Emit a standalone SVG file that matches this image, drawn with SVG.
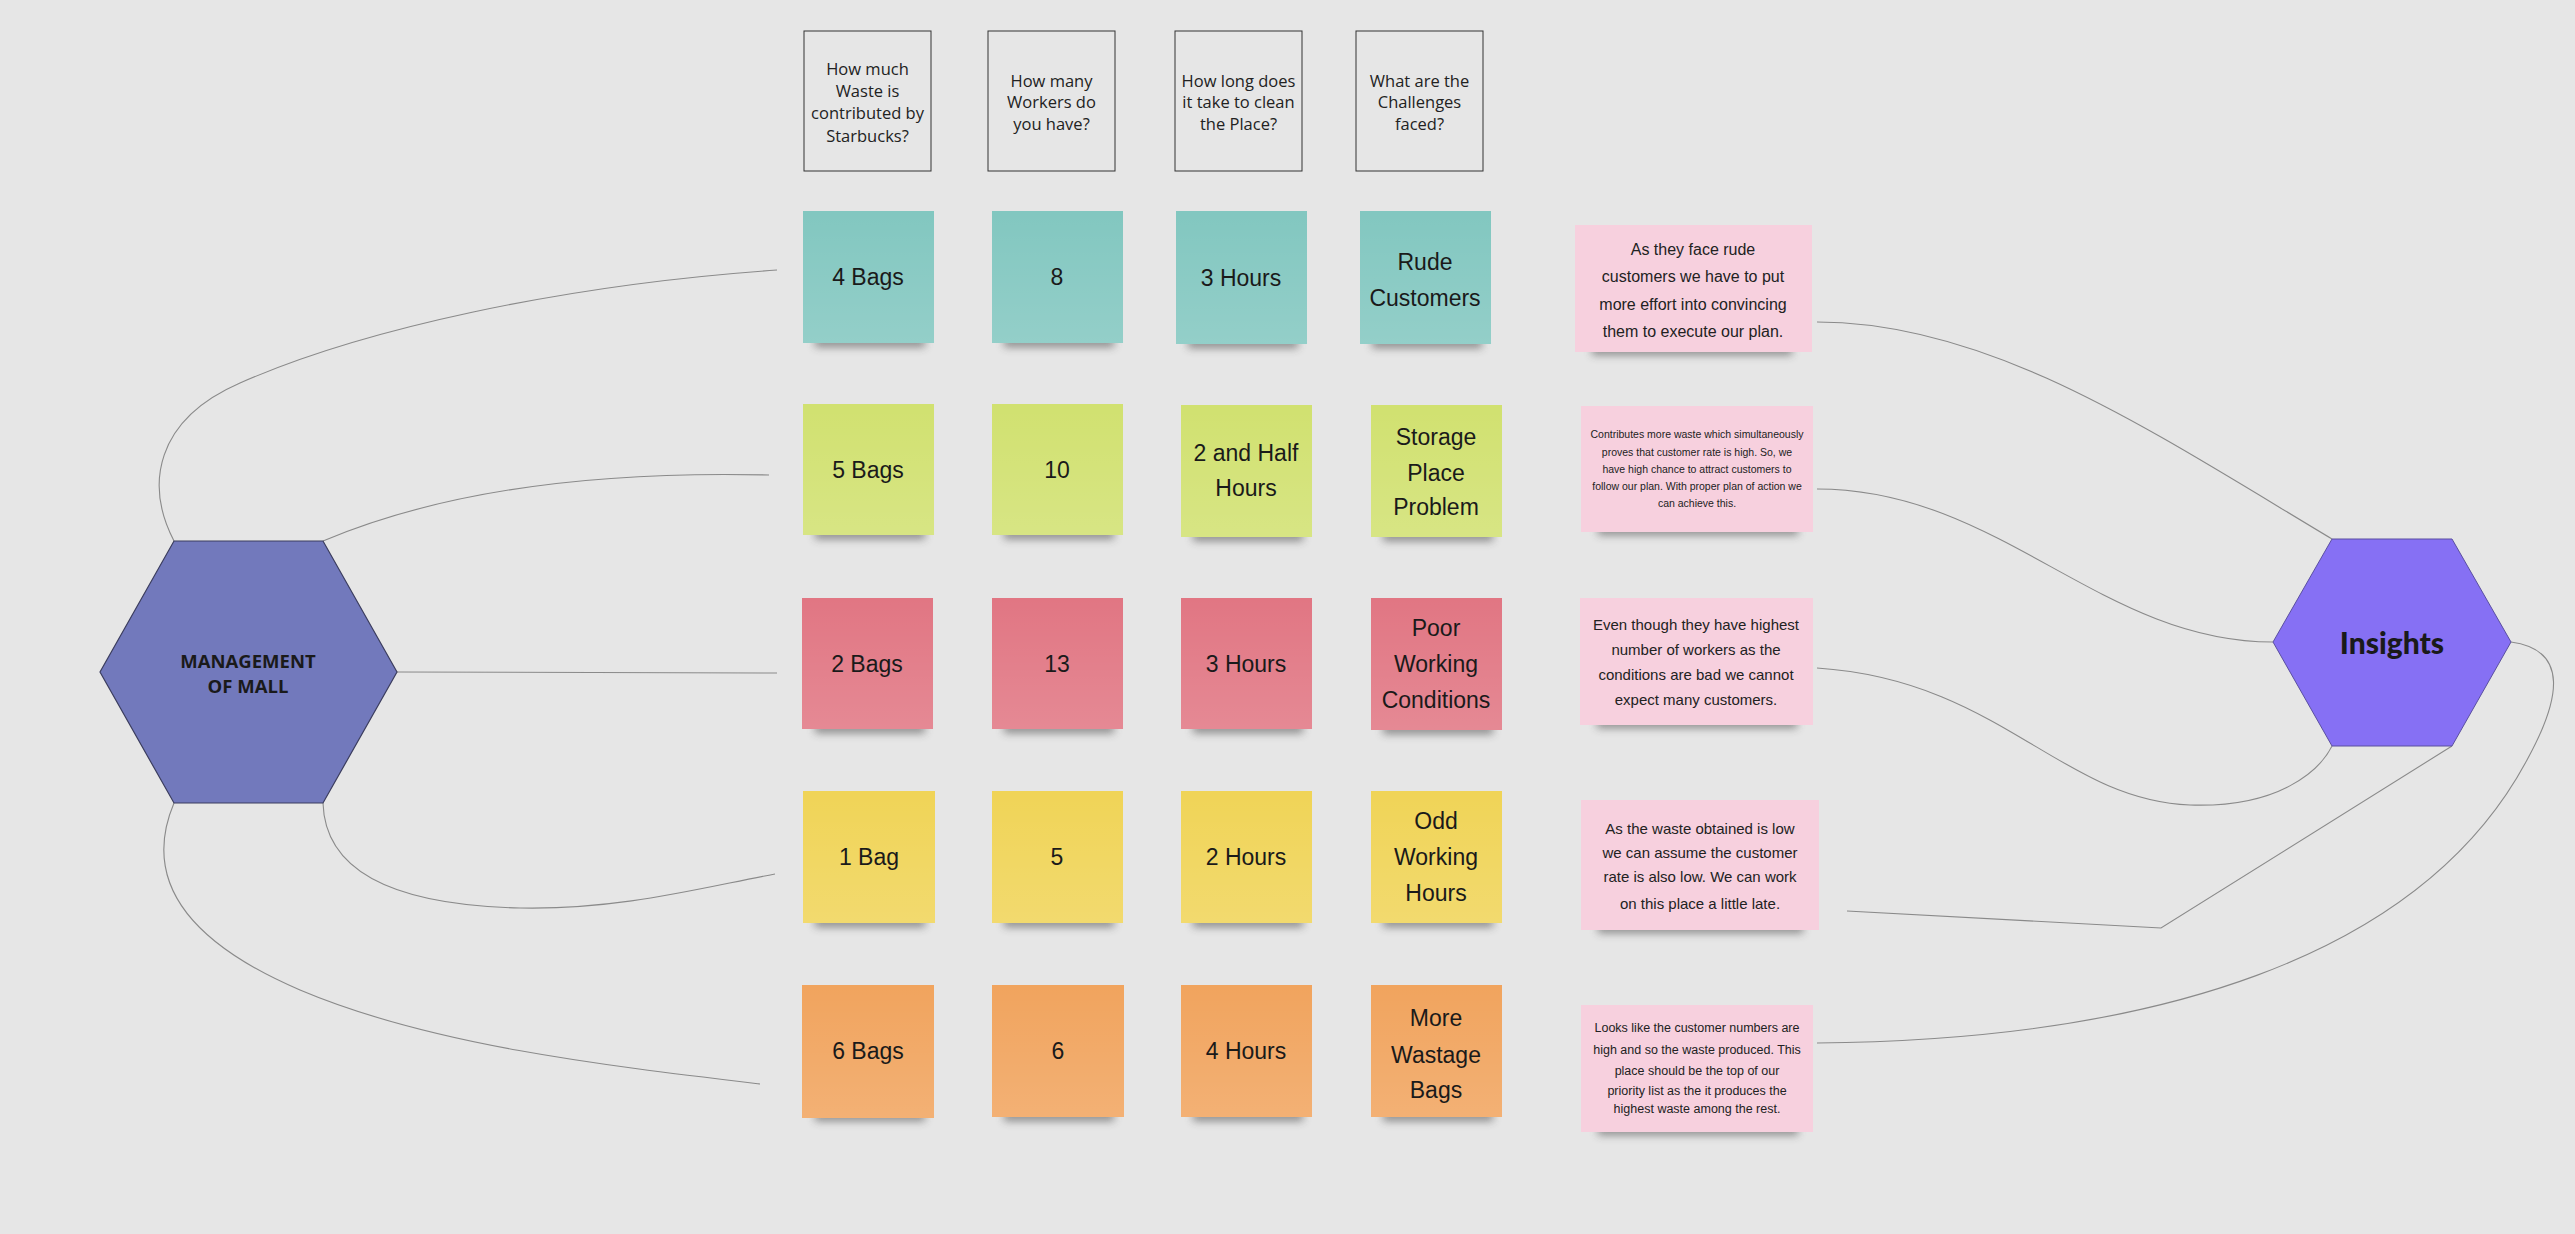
<svg xmlns="http://www.w3.org/2000/svg" width="2575" height="1234" viewBox="0 0 2575 1234">
<defs>
<style>
.bg{fill:#e6e6e6}
.hdr{fill:#e6e6e6;stroke:#333;stroke-width:1}
.ht{font-family:"Open Sans","Liberation Sans",sans-serif;font-size:16.5px;fill:#222;text-anchor:middle}
.nt{font-family:"Liberation Sans",sans-serif;font-size:23px;fill:#1a1a1a;text-anchor:middle}
.pt{font-family:"Liberation Sans",sans-serif;fill:#222;text-anchor:middle}
.sh{fill:#3a3a3a;opacity:.55;filter:url(#blur)}
.teal{fill:#82c7c0}.lime{fill:#d1e170}.red{fill:#e17683}.yel{fill:#f0d457}.ora{fill:#f1a45e}.pink{fill:#f7d0de}
.gl{fill:url(#glow)}
.con path{fill:none;stroke:#8a8a8a;stroke-width:1.1}
</style>
<filter id="blur" x="-20%" y="-100%" width="140%" height="300%"><feGaussianBlur stdDeviation="4"/></filter>
<linearGradient id="glow" x1="0" y1="0" x2="0" y2="1"><stop offset="0" stop-color="#fff" stop-opacity="0"/><stop offset="1" stop-color="#fff" stop-opacity=".14"/></linearGradient>
</defs>
<rect class="bg" width="2575" height="1234"/>

<g id="connectors" class="con">
<path d="M174,541 C145,485 155,420 240,383 C360,330 560,285 777,270"/>
<path d="M323,541 C420,500 560,470 769,475"/>
<path d="M397,672 L777,673"/>
<path d="M323,803 C325,870 390,905 520,908 C620,910 700,888 775,874"/>
<path d="M174,803 C150,860 160,930 300,990 C430,1045 600,1065 760,1084"/>
<path d="M1817,322 C1990,322 2150,430 2332,539"/>
<path d="M1817,489 C2000,489 2100,642 2273,642"/>
<path d="M1817,668 C2000,680 2060,800 2190,805 C2280,808 2320,770 2332,746"/>
<path d="M1847,911 L2161,928 L2452,746"/>
<path d="M1817,1043 C2150,1040 2420,960 2527,760 C2560,700 2570,650 2511,642"/>
</g>

<g id="hex-management">
<polygon points="174,541 323,541 397,672 323,803 174,803 100,672" fill="#7279bc" stroke="#3b3d5e" stroke-width="1.2"/>
<text x="248" y="668" font-family="Open Sans, Liberation Sans, sans-serif" font-weight="700" font-size="18.5" fill="#1a1a1a" text-anchor="middle">MANAGEMENT</text>
<text x="248" y="693" font-family="Open Sans, Liberation Sans, sans-serif" font-weight="700" font-size="18.5" fill="#1a1a1a" text-anchor="middle">OF MALL</text>
</g>

<g id="hex-insights">
<polygon points="2332,539 2452,539 2511,642 2452,746 2332,746 2273,642" fill="#8670f4" stroke="#5a4fa0" stroke-width="1"/>
<text x="2392" y="654" font-family="Lato, Inter, sans-serif" font-weight="900" font-size="30" fill="#1a1a1a" text-anchor="middle">Insights</text>
</g>

<g id="header-waste"><rect class="hdr" x="804" y="31" width="127" height="140"/>
<text class="ht" x="867.5" y="75">How much</text><text class="ht" x="867.5" y="97">Waste is</text><text class="ht" x="867.5" y="119">contributed by</text><text class="ht" x="867.5" y="142">Starbucks?</text></g>
<g id="header-workers"><rect class="hdr" x="988" y="31" width="127" height="140"/>
<text class="ht" x="1051.5" y="87">How many</text><text class="ht" x="1051.5" y="108">Workers do</text><text class="ht" x="1051.5" y="130">you have?</text></g>
<g id="header-time"><rect class="hdr" x="1175" y="31" width="127" height="140"/>
<text class="ht" x="1238.5" y="87">How long does</text><text class="ht" x="1238.5" y="108">it take to clean</text><text class="ht" x="1238.5" y="130">the Place?</text></g>
<g id="header-challenges"><rect class="hdr" x="1356" y="31" width="127" height="140"/>
<text class="ht" x="1419.5" y="87">What are the</text><text class="ht" x="1419.5" y="108">Challenges</text><text class="ht" x="1419.5" y="130">faced?</text></g>

<!-- Row 1 -->
<g id="n-r1c1"><rect class="sh" x="815" y="337" width="110" height="10"/><rect class="teal" x="803" y="211" width="131" height="132"/><rect class="gl" x="803" y="211" width="131" height="132"/><text class="nt" x="868" y="285">4 Bags</text></g>
<g id="n-r1c2"><rect class="sh" x="1004" y="337" width="110" height="10"/><rect class="teal" x="992" y="211" width="131" height="132"/><rect class="gl" x="992" y="211" width="131" height="132"/><text class="nt" x="1057" y="285">8</text></g>
<g id="n-r1c3"><rect class="sh" x="1188" y="338" width="110" height="10"/><rect class="teal" x="1176" y="211" width="131" height="133"/><rect class="gl" x="1176" y="211" width="131" height="133"/><text class="nt" x="1241" y="286">3 Hours</text></g>
<g id="n-r1c4"><rect class="sh" x="1372" y="338" width="110" height="10"/><rect class="teal" x="1360" y="211" width="131" height="133"/><rect class="gl" x="1360" y="211" width="131" height="133"/><text class="nt" x="1425" y="270">Rude</text><text class="nt" x="1425" y="306">Customers</text></g>

<!-- Row 2 -->
<g id="n-r2c1"><rect class="sh" x="815" y="529" width="110" height="10"/><rect class="lime" x="803" y="404" width="131" height="131"/><rect class="gl" x="803" y="404" width="131" height="131"/><text class="nt" x="868" y="478">5 Bags</text></g>
<g id="n-r2c2"><rect class="sh" x="1004" y="529" width="110" height="10"/><rect class="lime" x="992" y="404" width="131" height="131"/><rect class="gl" x="992" y="404" width="131" height="131"/><text class="nt" x="1057" y="478">10</text></g>
<g id="n-r2c3"><rect class="sh" x="1193" y="531" width="110" height="10"/><rect class="lime" x="1181" y="405" width="131" height="132"/><rect class="gl" x="1181" y="405" width="131" height="132"/><text class="nt" x="1246" y="461">2 and Half</text><text class="nt" x="1246" y="496">Hours</text></g>
<g id="n-r2c4"><rect class="sh" x="1383" y="531" width="110" height="10"/><rect class="lime" x="1371" y="405" width="131" height="132"/><rect class="gl" x="1371" y="405" width="131" height="132"/><text class="nt" x="1436" y="445">Storage</text><text class="nt" x="1436" y="481">Place</text><text class="nt" x="1436" y="515">Problem</text></g>

<!-- Row 3 -->
<g id="n-r3c1"><rect class="sh" x="815" y="723" width="110" height="10"/><rect class="red" x="802" y="598" width="131" height="131"/><rect class="gl" x="802" y="598" width="131" height="131"/><text class="nt" x="867" y="672">2 Bags</text></g>
<g id="n-r3c2"><rect class="sh" x="1004" y="723" width="110" height="10"/><rect class="red" x="992" y="598" width="131" height="131"/><rect class="gl" x="992" y="598" width="131" height="131"/><text class="nt" x="1057" y="672">13</text></g>
<g id="n-r3c3"><rect class="sh" x="1193" y="723" width="110" height="10"/><rect class="red" x="1181" y="598" width="131" height="131"/><rect class="gl" x="1181" y="598" width="131" height="131"/><text class="nt" x="1246" y="672">3 Hours</text></g>
<g id="n-r3c4"><rect class="sh" x="1383" y="724" width="110" height="10"/><rect class="red" x="1371" y="598" width="131" height="132"/><rect class="gl" x="1371" y="598" width="131" height="132"/><text class="nt" x="1436" y="636">Poor</text><text class="nt" x="1436" y="672">Working</text><text class="nt" x="1436" y="708">Conditions</text></g>

<!-- Row 4 -->
<g id="n-r4c1"><rect class="sh" x="815" y="917" width="110" height="10"/><rect class="yel" x="803" y="791" width="132" height="132"/><rect class="gl" x="803" y="791" width="132" height="132"/><text class="nt" x="869" y="865">1 Bag</text></g>
<g id="n-r4c2"><rect class="sh" x="1004" y="917" width="110" height="10"/><rect class="yel" x="992" y="791" width="131" height="132"/><rect class="gl" x="992" y="791" width="131" height="132"/><text class="nt" x="1057" y="865">5</text></g>
<g id="n-r4c3"><rect class="sh" x="1193" y="917" width="110" height="10"/><rect class="yel" x="1181" y="791" width="131" height="132"/><rect class="gl" x="1181" y="791" width="131" height="132"/><text class="nt" x="1246" y="865">2 Hours</text></g>
<g id="n-r4c4"><rect class="sh" x="1383" y="917" width="110" height="10"/><rect class="yel" x="1371" y="791" width="131" height="132"/><rect class="gl" x="1371" y="791" width="131" height="132"/><text class="nt" x="1436" y="829">Odd</text><text class="nt" x="1436" y="865">Working</text><text class="nt" x="1436" y="901">Hours</text></g>

<!-- Row 5 -->
<g id="n-r5c1"><rect class="sh" x="815" y="1111" width="110" height="10"/><rect class="ora" x="802" y="985" width="132" height="133"/><rect class="gl" x="802" y="985" width="132" height="133"/><text class="nt" x="868" y="1059">6 Bags</text></g>
<g id="n-r5c2"><rect class="sh" x="1004" y="1111" width="110" height="10"/><rect class="ora" x="992" y="985" width="132" height="132"/><rect class="gl" x="992" y="985" width="132" height="132"/><text class="nt" x="1058" y="1059">6</text></g>
<g id="n-r5c3"><rect class="sh" x="1193" y="1111" width="110" height="10"/><rect class="ora" x="1181" y="985" width="131" height="132"/><rect class="gl" x="1181" y="985" width="131" height="132"/><text class="nt" x="1246" y="1059">4 Hours</text></g>
<g id="n-r5c4"><rect class="sh" x="1383" y="1111" width="110" height="10"/><rect class="ora" x="1371" y="985" width="131" height="132"/><rect class="gl" x="1371" y="985" width="131" height="132"/><text class="nt" x="1436" y="1026">More</text><text class="nt" x="1436" y="1063">Wastage</text><text class="nt" x="1436" y="1098">Bags</text></g>

<!-- Insight notes -->
<g id="p1"><rect class="sh" x="1592" y="345" width="200" height="10"/><rect class="pink" x="1575" y="225" width="237" height="127"/>
<g class="pt" font-size="16"><text x="1693" y="255">As they face rude</text><text x="1693" y="282">customers we have to put</text><text x="1693" y="310">more effort into convincing</text><text x="1693" y="337">them to execute our plan.</text></g></g>
<g id="p2"><rect class="sh" x="1598" y="525" width="200" height="10"/><rect class="pink" x="1581" y="406" width="232" height="126"/>
<g class="pt" font-size="10.5"><text x="1697" y="438">Contributes more waste which simultaneously</text><text x="1697" y="456">proves that customer rate is high. So, we</text><text x="1697" y="473">have high chance to attract customers to</text><text x="1697" y="490">follow our plan. With proper plan of action we</text><text x="1697" y="507">can achieve this.</text></g></g>
<g id="p3"><rect class="sh" x="1597" y="718" width="200" height="10"/><rect class="pink" x="1580" y="598" width="233" height="127"/>
<g class="pt" font-size="15"><text x="1696" y="630">Even though they have highest</text><text x="1696" y="655">number of workers as the</text><text x="1696" y="680">conditions are bad we cannot</text><text x="1696" y="705">expect many customers.</text></g></g>
<g id="p4"><rect class="sh" x="1598" y="923" width="205" height="10"/><rect class="pink" x="1581" y="800" width="238" height="130"/>
<g class="pt" font-size="15"><text x="1700" y="834">As the waste obtained is low</text><text x="1700" y="858">we can assume the customer</text><text x="1700" y="882">rate is also low. We can work</text><text x="1700" y="909">on this place a little late.</text></g></g>
<g id="p5"><rect class="sh" x="1598" y="1125" width="200" height="10"/><rect class="pink" x="1581" y="1005" width="232" height="127"/>
<g class="pt" font-size="12.5"><text x="1697" y="1032">Looks like the customer numbers are</text><text x="1697" y="1054">high and so the waste produced. This</text><text x="1697" y="1075">place should be the top of our</text><text x="1697" y="1095">priority list as the it produces the</text><text x="1697" y="1113">highest waste among the rest.</text></g></g>
</svg>
